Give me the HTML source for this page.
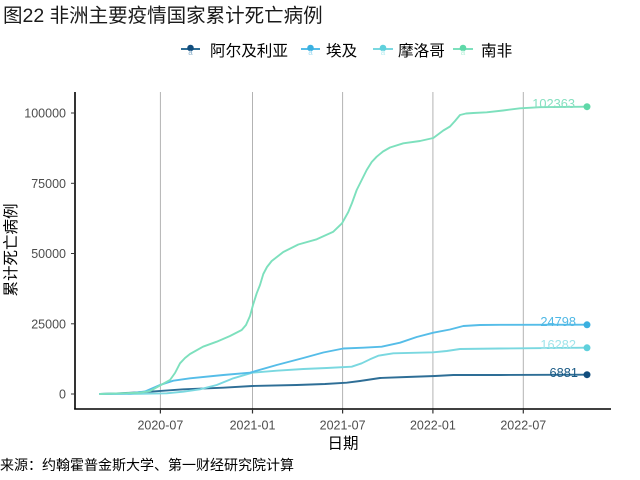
<!DOCTYPE html>
<html>
<head>
<meta charset="utf-8">
<style>
  html,body{margin:0;padding:0;background:#fff;}
  body{width:640px;height:480px;overflow:hidden;}
  svg{display:block;}
  text{font-family:"Liberation Sans","Noto Sans CJK SC",sans-serif;}
</style>
</head>
<body>
<svg width="640" height="480" viewBox="0 0 640 480" xmlns="http://www.w3.org/2000/svg">
  <rect width="640" height="480" fill="#fff"/>

  <!-- Title -->
  <text x="3" y="22" font-size="19.5" fill="#1a1a1a">图22 非洲主要疫情国家累计死亡病例</text>

  <!-- Legend -->
  <g>
    <line x1="181" y1="49" x2="200" y2="49" stroke="#2e6e96" stroke-width="2"/>
    <circle cx="190.5" cy="48" r="3.3" fill="#114d7d"/>
    <text x="190.5" y="55" font-size="8" fill="#8fb2cc" text-anchor="middle">a</text>
    <text x="210" y="56" font-size="15.6" fill="#000">阿尔及利亚</text>

    <line x1="301" y1="49" x2="320" y2="49" stroke="#55bde8" stroke-width="2"/>
    <circle cx="310.5" cy="48" r="3.3" fill="#3ab0e0"/>
    <text x="310.5" y="55" font-size="8" fill="#a5dcf2" text-anchor="middle">a</text>
    <text x="326" y="56" font-size="15.6" fill="#000">埃及</text>

    <line x1="373" y1="49" x2="393" y2="49" stroke="#7ad8e0" stroke-width="2"/>
    <circle cx="383" cy="48" r="3.3" fill="#5fd0dc"/>
    <text x="383" y="55" font-size="8" fill="#b8ecf0" text-anchor="middle">a</text>
    <text x="398" y="56" font-size="15.6" fill="#000">摩洛哥</text>

    <line x1="453" y1="49" x2="473" y2="49" stroke="#7de0bd" stroke-width="2"/>
    <circle cx="463" cy="48" r="3.3" fill="#5fd8a8"/>
    <text x="463" y="55" font-size="8" fill="#b8f0da" text-anchor="middle">a</text>
    <text x="481" y="56" font-size="15.6" fill="#000">南非</text>
  </g>

  <!-- Grid lines (vertical) -->
  <g stroke="#b3b3b3" stroke-width="1">
    <line x1="160.4" y1="92" x2="160.4" y2="409"/>
    <line x1="252.5" y1="92" x2="252.5" y2="409"/>
    <line x1="342.6" y1="92" x2="342.6" y2="409"/>
    <line x1="432.9" y1="92" x2="432.9" y2="409"/>
    <line x1="523.3" y1="92" x2="523.3" y2="409"/>
  </g>

  <!-- Series -->
  <g fill="none" stroke-width="1.9" stroke-linejoin="round" stroke-linecap="round">
    <!-- Algeria -->
    <polyline stroke="#2e6e96" points="100,394 120,393.3 150,391.7 183.3,389.3 223.3,387.7 252.3,386 296.7,385 325,384 346.7,382.7 360,381 380,378 406.7,377 435,376 453.3,375 500,375 586.7,374.7"/>
    <!-- Morocco -->
    <polyline stroke="#7ad8e0" points="100,394 140,393.8 166.7,393.3 183.3,391.7 200,389.3 216.7,385 233.3,378.3 252.3,372.7 276.7,370.7 303.3,369 326.7,368 351.7,366.7 361.7,363.3 370,359.3 378.3,355.7 393.3,353.3 433.3,352.3 446.7,351 460,349 500,348.5 586.7,347.7"/>
    <!-- Egypt -->
    <polyline stroke="#55bde8" points="100,394 130,393.5 145,391.5 160,385 173.3,380.7 190,378.3 223.3,375 250,372.7 276.7,365 303.3,358 323.3,352.5 343.3,348.5 363.3,347.7 381.7,346.7 400,342.7 416.7,337 433.3,332.7 450,329.5 463.3,326 480,325 500,324.8 586.7,324.7"/>
    <!-- South Africa -->
    <polyline stroke="#7de0bd" points="100,394 140,392.7 150,391 160,385.5 170,380 175,373 180,363.3 185,358 190,354 203,346.7 216.7,341.7 230,336 241.7,330 246,325 250,316 253,305 256.7,293.3 260,285 263.3,274 267,267 271.7,261 283.3,252 298.3,244.5 316.7,239.3 333.3,231.7 342,223.3 348.3,212 352,203 356.7,190 361.7,180 366.7,170 371.7,162 376.7,156.7 383,151.5 390,147.5 403.3,143.3 420,141 433.3,138 443.3,130.5 450,126.5 455,121 460,115 466,113.5 473.3,113 486.7,112.3 503,110.5 520,108.3 540,107.2 586.7,106.7"/>
  </g>

  <!-- End points -->
  <circle cx="587" cy="374.7" r="3.5" fill="#114d7d"/>
  <circle cx="587" cy="347.8" r="3.5" fill="#5fd0dc"/>
  <circle cx="587" cy="324.8" r="3.5" fill="#3ab0e0"/>
  <circle cx="587" cy="106.7" r="3.5" fill="#5fd8a8"/>

  <!-- End labels -->
  <g font-size="12.8" text-anchor="end">
    <text x="575" y="108" fill="#86e0c0">102363</text>
    <text x="576" y="326" fill="#4fb8e5">24798</text>
    <text x="576" y="349" fill="#a0e4ea">16282</text>
    <text x="578" y="377" fill="#1a5a85">6881</text>
  </g>

  <!-- Axes -->
  <line x1="75" y1="92" x2="75" y2="409.5" stroke="#000" stroke-width="1.6"/>
  <line x1="74.2" y1="409" x2="611" y2="409" stroke="#000" stroke-width="1.6"/>

  <!-- Y ticks -->
  <g stroke="#333" stroke-width="1">
    <line x1="71" y1="113" x2="75" y2="113"/>
    <line x1="71" y1="183.3" x2="75" y2="183.3"/>
    <line x1="71" y1="253.5" x2="75" y2="253.5"/>
    <line x1="71" y1="323.8" x2="75" y2="323.8"/>
    <line x1="71" y1="394" x2="75" y2="394"/>
  </g>
  <g font-size="12.5" fill="#4d4d4d" text-anchor="end">
    <text x="66" y="117.5">100000</text>
    <text x="66" y="187.8">75000</text>
    <text x="66" y="258">50000</text>
    <text x="66" y="328.3">25000</text>
    <text x="66" y="398.5">0</text>
  </g>

  <!-- X ticks -->
  <g stroke="#333" stroke-width="1.2">
    <line x1="160.4" y1="409" x2="160.4" y2="413.5"/>
    <line x1="252.5" y1="409" x2="252.5" y2="413.5"/>
    <line x1="342.6" y1="409" x2="342.6" y2="413.5"/>
    <line x1="432.9" y1="409" x2="432.9" y2="413.5"/>
    <line x1="523.3" y1="409" x2="523.3" y2="413.5"/>
  </g>
  <g font-size="12.5" fill="#4d4d4d" text-anchor="middle">
    <text x="160.4" y="429.5">2020-07</text>
    <text x="252.5" y="429.5">2021-01</text>
    <text x="342.6" y="429.5">2021-07</text>
    <text x="432.9" y="429.5">2022-01</text>
    <text x="523.3" y="429.5">2022-07</text>
  </g>

  <!-- Axis titles -->
  <text x="343" y="448.5" font-size="15.5" fill="#000" text-anchor="middle">日期</text>
  <text transform="translate(16,250) rotate(-90)" font-size="15.5" fill="#000" text-anchor="middle">累计死亡病例</text>

  <!-- Source -->
  <text x="0" y="470" font-size="14" fill="#000">来源：约翰霍普金斯大学、第一财经研究院计算</text>
</svg>
</body>
</html>
